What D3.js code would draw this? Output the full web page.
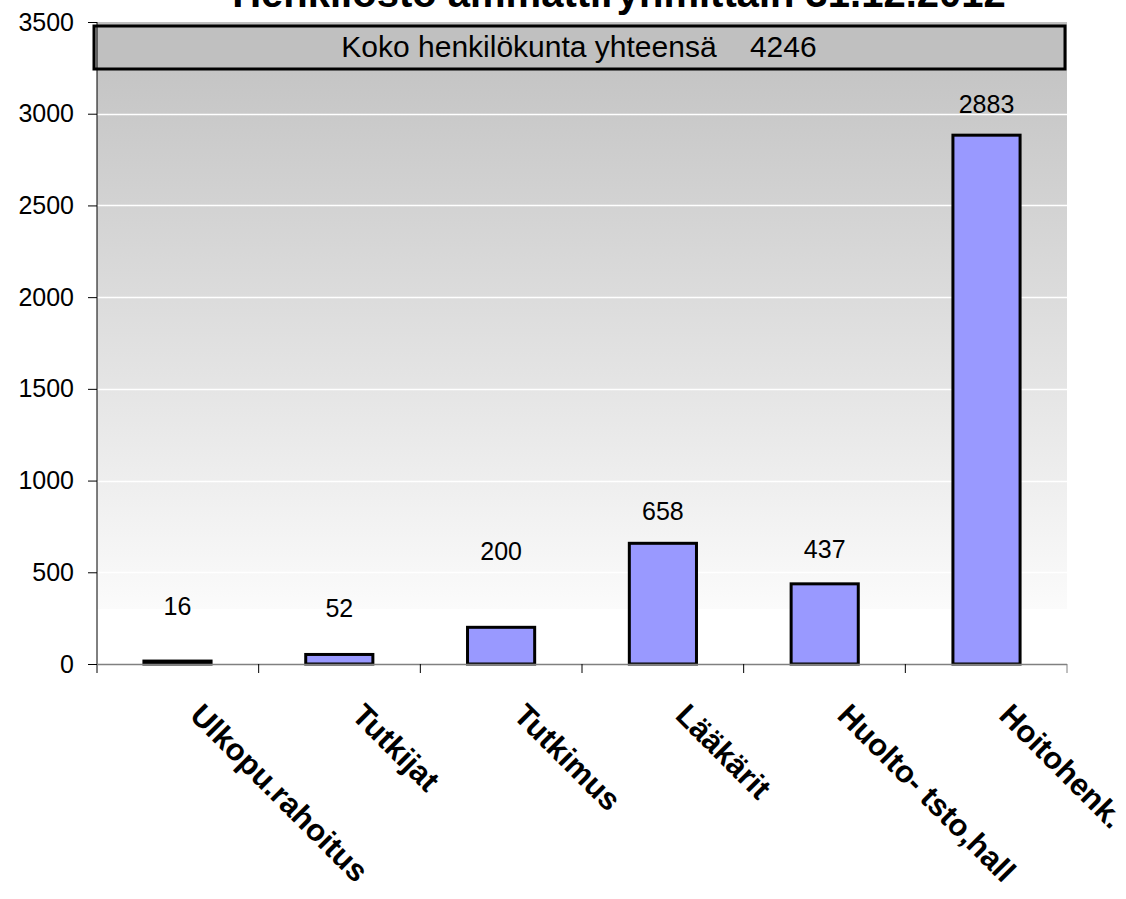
<!DOCTYPE html>
<html>
<head>
<meta charset="utf-8">
<script src="https://cdn.jsdelivr.net/npm/d3@7"></script>
<style>
  body { margin: 0; background: #fff; }
  text { font-family: "Liberation Sans", Arial, sans-serif; }
</style>
</head>
<body>
<div id="chart"></div>
<script>
(function() {
"use strict";

const categories = ["Ulkopu.rahoitus", "Tutkijat", "Tutkimus", "Lääkärit", "Huolto- tsto,hall", "Hoitohenk."];
const values = [16, 52, 200, 658, 437, 2883];
// where each value label sits, in data units (placed by hand in the original)
const labelAt = [267, 256, 567, 785, 578, 3004];
const yTicks = [0, 500, 1000, 1500, 2000, 2500, 3000, 3500];
const title = "Henkilöstö ammattiryhmittäin 31.12.2012";
const totalLabel = "Koko henkilökunta yhteensä";
const total = 4246;

const WIDTH = 1126;
const HEIGHT = 899;
const LEFT = 97, RIGHT = 1067, TOP = 22, BOTTOM = 664;

const svg = d3.select("#chart")
  .append("svg")
  .attr("width", WIDTH)
  .attr("height", HEIGHT);

const x = d3.scaleBand()
  .domain(categories)
  .range([LEFT, RIGHT])
  .paddingInner(0.585)
  .paddingOuter(0.29);

const y = d3.scaleLinear()
  .domain([0, 3500])
  .range([BOTTOM, TOP]);

// background gradient
const grad = svg.append("defs").append("linearGradient")
  .attr("id", "bg")
  .attr("x1", 0).attr("y1", 0).attr("x2", 0).attr("y2", 1);
grad.append("stop").attr("offset", "0%").attr("stop-color", "#c0c0c0");
grad.append("stop").attr("offset", "91.4%").attr("stop-color", "#fbfbfb");
grad.append("stop").attr("offset", "91.5%").attr("stop-color", "#ffffff");
grad.append("stop").attr("offset", "100%").attr("stop-color", "#ffffff");

svg.append("rect")
  .attr("x", LEFT)
  .attr("y", TOP)
  .attr("width", RIGHT - LEFT)
  .attr("height", BOTTOM - TOP)
  .attr("fill", "url(#bg)");

// gridlines
svg.append("g")
  .selectAll("line")
  .data(yTicks.filter(d => d > 0 && d < 3500))
  .enter()
  .append("line")
    .attr("x1", LEFT)
    .attr("x2", RIGHT)
    .attr("y1", d => Math.round(y(d)) + 0.5)
    .attr("y2", d => Math.round(y(d)) + 0.5)
    .attr("stroke", "#ffffff")
    .attr("stroke-width", 1.5);

// title (partly off the top of the picture, as in the original)
svg.append("text")
  .attr("x", 619)
  .attr("y", 7)
  .attr("text-anchor", "middle")
  .attr("font-size", 40)
  .attr("font-weight", "bold")
  .text(title);

// total box
svg.append("rect")
  .attr("x", 94)
  .attr("y", 26)
  .attr("width", 971)
  .attr("height", 43)
  .attr("fill", "#c0c0c0")
  .attr("stroke", "#000")
  .attr("stroke-width", 3);

svg.append("text")
  .attr("x", 579)
  .attr("y", 57)
  .attr("text-anchor", "middle")
  .attr("font-size", 30)
  .attr("xml:space", "preserve")
  .text(totalLabel + "    " + total);

// bars
svg.append("g")
  .selectAll("rect")
  .data(values)
  .enter()
  .append("rect")
    .attr("x", (d, i) => x(categories[i]))
    .attr("y", d => y(d))
    .attr("width", x.bandwidth())
    .attr("height", d => BOTTOM - y(d))
    .attr("fill", "#9999ff")
    .attr("stroke", "#000")
    .attr("stroke-width", 3);

// value labels
svg.append("g")
  .selectAll("text")
  .data(values)
  .enter()
  .append("text")
    .attr("x", (d, i) => x(categories[i]) + x.bandwidth() / 2)
    .attr("y", (d, i) => y(labelAt[i]))
    .attr("text-anchor", "middle")
    .attr("font-size", 25)
    .attr("fill", "#000")
    .text(d => d);

// y axis
const yAxis = d3.axisLeft(y)
  .tickValues(yTicks)
  .tickFormat(d3.format("d"))
  .tickSize(9)
  .tickPadding(14);

const yG = svg.append("g")
  .attr("transform", `translate(${LEFT}, 0)`)
  .call(yAxis);
yG.attr("font-size", null).attr("font-family", null);
yG.select(".domain").attr("stroke", "#000").attr("d", `M0,${TOP}V${BOTTOM + 9}`);
yG.selectAll(".tick line").attr("stroke", "#000");
yG.selectAll(".tick text")
  .attr("font-size", 25)
  .attr("fill", "#000");

// x axis
const xEdges = d3.range(categories.length + 1).map(i => LEFT + i * (RIGHT - LEFT) / categories.length);

svg.append("line")
  .attr("x1", LEFT)
  .attr("x2", RIGHT)
  .attr("y1", BOTTOM + 0.5)
  .attr("y2", BOTTOM + 0.5)
  .attr("stroke", "#808080")
  .attr("stroke-width", 1.5);

svg.append("g")
  .selectAll("line")
  .data(xEdges.slice(1))
  .enter()
  .append("line")
    .attr("x1", d => d)
    .attr("x2", d => d)
    .attr("y1", BOTTOM)
    .attr("y2", BOTTOM + 9)
    .attr("stroke", (d, i) => i === categories.length - 1 ? "#808080" : "#000");

// category labels
svg.append("g")
  .selectAll("text")
  .data(categories)
  .enter()
  .append("text")
    .attr("transform", d => `translate(${x(d) + x.bandwidth() / 2 + 11}, 717) rotate(45)`)
    .attr("text-anchor", "start")
    .attr("font-size", 31)
    .attr("font-weight", "bold")
    .attr("fill", "#000")
    .text(d => d);

})();
</script>
</body>
</html>
